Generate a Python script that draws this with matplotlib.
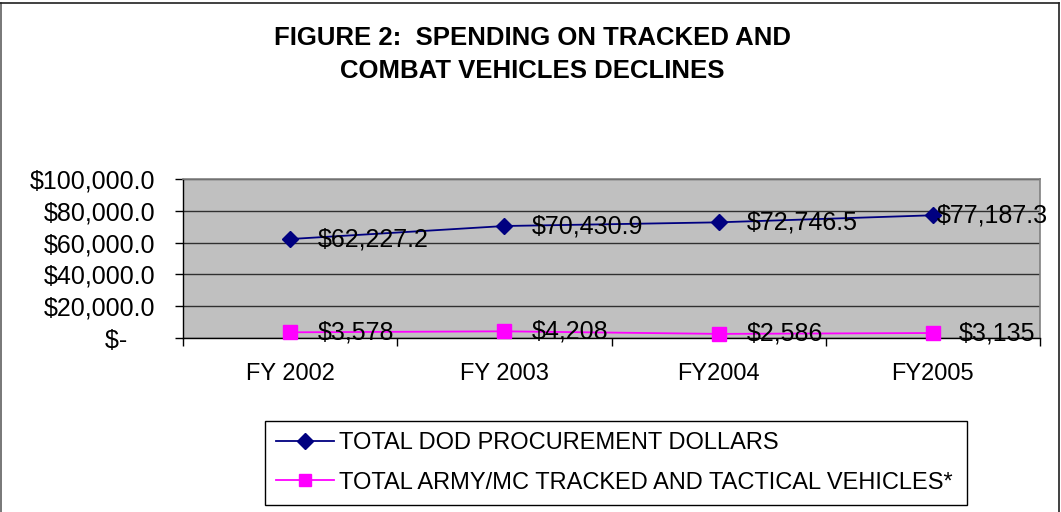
import matplotlib
matplotlib.use("Agg")
import matplotlib.pyplot as plt
from matplotlib.lines import Line2D

categories = ["FY 2002", "FY 2003", "FY2004", "FY2005"]
dod_total = [62227.2, 70430.9, 72746.5, 77187.3]
army_mc = [3578, 4208, 2586, 3135]
dod_labels = ["$62,227.2", "$70,430.9", "$72,746.5", "$77,187.3"]
army_labels = ["$3,578", "$4,208", "$2,586", "$3,135"]
y_ticks = [0, 20000, 40000, 60000, 80000, 100000]
y_ticklabels = ["$-    ", "$20,000.0", "$40,000.0", "$60,000.0", "$80,000.0", "$100,000.0"]
series_names = ["TOTAL DOD PROCUREMENT DOLLARS", "TOTAL ARMY/MC TRACKED AND TACTICAL VEHICLES*"]
title_text = "FIGURE 2:  SPENDING ON TRACKED AND\nCOMBAT VEHICLES DECLINES"

plt.rcParams['font.family'] = ['Liberation Sans', 'DejaVu Sans']

fig = plt.figure(figsize=(10.61, 5.12), dpi=100)
ax = fig.add_axes([183/1061, 1-338/512, (1040-183)/1061, (338-179)/512])
ax.set_facecolor("#C0C0C0")

x = list(range(len(categories)))
l1, = ax.plot(x, dod_total, color="#000080", marker="D", markersize=8.5, linewidth=1.3,
              label=series_names[0], zorder=3, clip_on=False)
l2, = ax.plot(x, army_mc, color="#FF00FF", marker="s", markersize=9.5, linewidth=1.3,
              label=series_names[1], zorder=3, clip_on=False)

ax.set_xlim(-0.5, len(categories) - 0.5)
ax.set_ylim(0, 100000)
ax.set_yticks(y_ticks)
ax.set_yticklabels(y_ticklabels, fontsize=18)
ax.set_xticks(x)
ax.set_xticklabels(categories, fontsize=17)
ax.tick_params(axis="x", length=0, pad=18)
ax.set_xticks([i - 0.5 for i in range(len(categories) + 1)], minor=True)
ax.tick_params(axis="x", which="minor", length=6, direction="out", width=1)
ax.tick_params(axis="y", length=5.8, direction="out", width=1, pad=14.4)
ax.grid(axis="y", color="#000000", linewidth=1, alpha=0.75)
ax.set_axisbelow(True)
for s in ["top", "right"]:
    ax.spines[s].set_color("#808080")
    ax.spines[s].set_linewidth(1.2)
for s in ["left", "bottom"]:
    ax.spines[s].set_color("#000000")
    ax.spines[s].set_linewidth(1)

dod_off = [20, 20, 20, 3]
army_off = [20, 20, 20, 19]
for i in x:
    ax.annotate(dod_labels[i], (x[i], dod_total[i]), xytext=(dod_off[i], 0),
                textcoords="offset points", ha="left", va="center", fontsize=18, zorder=4)
    ax.annotate(army_labels[i], (x[i], army_mc[i]), xytext=(army_off[i], 0),
                textcoords="offset points", ha="left", va="center", fontsize=18, zorder=4)

fig.text(532/1061, 1-54.5/512, title_text, ha="center", va="center", fontsize=18.5,
         fontweight="bold", linespacing=1.5)

leg = fig.legend(handles=[l1, l2], loc="lower left",
                 bbox_to_anchor=(265/1061, 7/512, (967-265)/1061, (505-420)/512),
                 mode="expand", fontsize=17, frameon=True, fancybox=False,
                 edgecolor="#000000", framealpha=1, handlelength=2.45, handletextpad=0.2,
                 labelspacing=0.74, borderpad=0.48, borderaxespad=0, markerscale=0.9)
leg.get_frame().set_linewidth(1)

# outer chart border (top, left, right; bottom edge cut off)
fig.add_artist(Line2D([1/1061, 1/1061], [0, 509/512], transform=fig.transFigure,
                      color="#606060", linewidth=1.2))
fig.add_artist(Line2D([0, 1059/1061], [509/512, 509/512], transform=fig.transFigure,
                      color="#202020", linewidth=1.2))
fig.add_artist(Line2D([1059/1061, 1059/1061], [0, 509/512], transform=fig.transFigure,
                      color="#202020", linewidth=1.2))

fig.savefig("out.png", dpi=100)
